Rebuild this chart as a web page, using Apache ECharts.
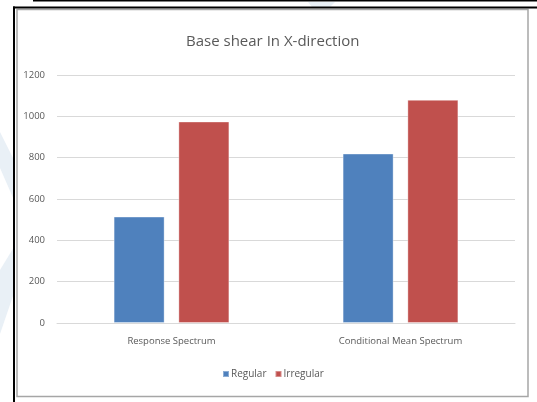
<!DOCTYPE html>
<html>
<head>
<meta charset="utf-8">
<script src="https://cdn.jsdelivr.net/npm/echarts@6/dist/echarts.min.js"></script>
<style>
html,body{margin:0;padding:0;background:#fff;}
#c{width:537px;height:402px;}
</style>
</head>
<body>
<div id="c"></div>
<script>
const categories = ['Response Spectrum', 'Conditional Mean Spectrum'];
const regular = [515, 820];
const irregular = [975, 1080];
const yTicks = [0, 200, 400, 600, 800, 1000, 1200];
const seriesNames = ['Regular', 'Irregular'];

const FONT = '"Open Sans", sans-serif';
const chart = echarts.init(document.getElementById('c'), null, {renderer: 'canvas'});
chart.setOption({
  animation: false,
  backgroundColor: '#fff',
  title: {
    text: 'Base shear In X-direction',
    left: 181,
    top: 29,
    padding: 5,
    textStyle: {fontFamily: FONT, fontSize: 15, fontWeight: 'normal', color: '#595959'}
  },
  legend: {
    data: seriesNames,
    top: 364,
    left: 217,
    itemWidth: 6,
    itemHeight: 6,
    itemGap: 8,
    icon: 'rect',
    textStyle: {fontFamily: FONT, fontSize: 10, color: '#595959', padding: [0, 0, 0, -3]}
  },
  grid: {left: 57, right: 22, top: 75, bottom: 79, containLabel: false},
  xAxis: {
    type: 'category',
    data: categories,
    axisLine: {lineStyle: {color: '#d9d9d9'}},
    axisTick: {show: false},
    axisLabel: {fontFamily: FONT, fontSize: 9.5, color: '#595959', margin: 13}
  },
  yAxis: {
    type: 'value',
    min: 0, max: 1200, interval: 200,
    axisLine: {show: false},
    axisTick: {show: false},
    splitLine: {lineStyle: {color: '#d9d9d9'}},
    axisLabel: {fontFamily: FONT, fontSize: 9.5, color: '#595959', margin: 12,
      formatter: v => yTicks.includes(v) ? String(v) : ''}
  },
  series: [
    {name: seriesNames[0], type: 'bar', data: regular, barWidth: 51, barGap: '27%',
      itemStyle: {color: '#4F81BD', borderColor: 'rgba(255,255,255,0.35)', borderWidth: 1}},
    {name: seriesNames[1], type: 'bar', data: irregular, barWidth: 51, barGap: '27%',
      itemStyle: {color: '#C0504D', borderColor: 'rgba(255,255,255,0.35)', borderWidth: 1}}
  ],
  graphic: [
    {type: 'polygon', silent: true, z: -10, shape: {points: [[0,132],[14,160],[14,200],[0,168]]}, style: {fill: '#e9f0f6'}},
    {type: 'polygon', silent: true, z: -10, shape: {points: [[0,270],[14,247],[14,293],[0,334]]}, style: {fill: '#e9f0f6'}},
    {type: 'polygon', silent: true, z: -10, shape: {points: [[308,2],[335,2],[330,7],[312,7]]}, style: {fill: '#e9f0f6'}},
    {type: 'rect', silent: true, z: 100, shape: {x: 17, y: 9.5, width: 511, height: 387}, style: {fill: 'none', stroke: '#a6a6a6', lineWidth: 1.5}},
    {type: 'line', silent: true, z: 100, shape: {x1: 33, y1: 0.5, x2: 537, y2: 0.5}, style: {stroke: '#000', lineWidth: 2}},
    {type: 'line', silent: true, z: 100, shape: {x1: 13, y1: 7.5, x2: 537, y2: 7.5}, style: {stroke: '#000', lineWidth: 2}},
    {type: 'line', silent: true, z: 100, shape: {x1: 14, y1: 6.5, x2: 14, y2: 402}, style: {stroke: '#000', lineWidth: 2}}
  ]
});
</script>
</body>
</html>
